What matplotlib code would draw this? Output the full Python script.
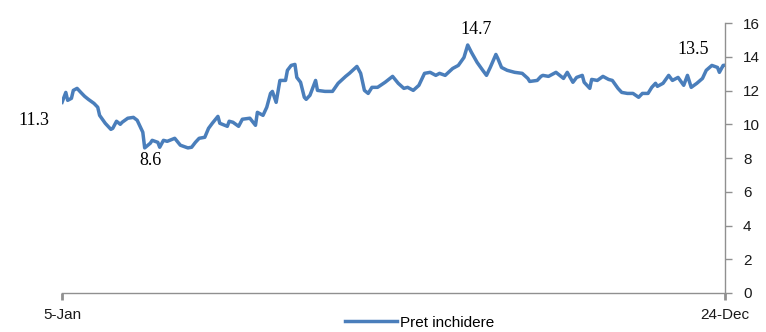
import datetime as dt
import matplotlib
matplotlib.use("Agg")
import matplotlib.pyplot as plt
import matplotlib.dates as mdates

# days after 5-Jan and closing price
day_offset = [0, 2, 3, 5, 6, 8, 10, 12, 14, 17, 19, 20, 23, 26, 27, 29, 31, 32, 35, 38,
              40, 42, 43, 44, 47, 48, 51, 52, 54, 56, 60, 63, 67, 69, 71, 73, 76, 78, 80, 83,
              84, 88, 89, 91, 94, 96, 100, 103, 104, 107, 109, 111, 112, 114, 116, 119, 120, 122, 124, 125,
              127, 129, 130, 132, 135, 136, 140, 144, 147, 151, 153, 157, 159, 161, 163, 165, 168, 172, 176, 179,
              182, 184, 187, 190, 193, 196, 199, 201, 204, 208, 211, 214, 216, 218, 221, 224, 226, 228, 231, 232,
              234, 237, 241, 245, 248, 249, 253, 255, 256, 259, 263, 265, 267, 269, 272, 274, 277, 278, 281, 282,
              285, 288, 291, 293, 296, 298, 301, 304, 307, 309, 312, 314, 316, 317, 320, 323, 325, 328, 331, 333,
              335, 338, 341, 343, 346, 349, 350, 352, 353]
price = [11.3, 11.89, 11.42, 11.54, 12.01, 12.13, 11.89, 11.66, 11.48, 11.24, 11.01, 10.53, 10.06, 9.70, 9.76, 10.18, 10.0, 10.12, 10.36, 10.41,
         10.24, 9.76, 9.53, 8.6, 8.88, 9.05, 8.93, 8.64, 9.05, 8.99, 9.17, 8.76, 8.6, 8.64, 8.93, 9.17, 9.23, 9.76, 10.06, 10.47,
         10.06, 9.88, 10.18, 10.12, 9.88, 10.30, 10.36, 9.94, 10.71, 10.53, 11.01, 11.83, 11.95, 11.30, 12.60, 12.60, 13.20, 13.49, 13.55, 12.78,
         12.49, 11.60, 11.48, 11.72, 12.60, 12.01, 11.95, 11.95, 12.43, 12.84, 13.02, 13.43, 13.02, 12.01, 11.83, 12.19, 12.19, 12.49, 12.84, 12.43,
         12.13, 12.19, 12.01, 12.31, 13.02, 13.08, 12.90, 13.02, 12.90, 13.31, 13.49, 13.96, 14.7, 14.26, 13.67, 13.20, 12.90, 13.37, 14.14, 13.91,
         13.37, 13.20, 13.08, 13.02, 12.72, 12.54, 12.60, 12.84, 12.90, 12.84, 13.08, 12.90, 12.72, 13.08, 12.49, 12.78, 12.90, 12.49, 12.13, 12.66,
         12.60, 12.84, 12.66, 12.60, 12.13, 11.89, 11.83, 11.83, 11.60, 11.83, 11.83, 12.19, 12.43, 12.25, 12.43, 12.90, 12.60, 12.78, 12.31, 12.90,
         12.19, 12.43, 12.72, 13.20, 13.49, 13.37, 13.08, 13.49, 13.5]
start = dt.date(2010, 1, 5)
series_name = 'Pret inchidere'
y_ticks = [0, 2, 4, 6, 8, 10, 12, 14, 16]

dates = [start + dt.timedelta(days=d) for d in day_offset]

narrow = ['Liberation Sans Narrow', 'Liberation Sans', 'DejaVu Sans']
serif = ['Liberation Serif', 'DejaVu Serif']

fig = plt.figure(figsize=(7.66, 3.32), dpi=100)
ax = fig.add_axes([0.081, 0.1175, 0.8655, 0.813])

ax.plot(dates, price, color='#4a7ebb', lw=2.5, label=series_name)

ax.set_xlim(dates[0], dates[-1])
ax.set_ylim(0, 16)
ax.set_xticks([dates[0], dates[-1]])
ax.xaxis.set_major_formatter(mdates.DateFormatter('%-d-%b'))
ax.set_yticks(y_ticks)

ax.yaxis.tick_right()
for s in ['left', 'top']:
    ax.spines[s].set_visible(False)
for s in ['right', 'bottom']:
    ax.spines[s].set_color('#909090')
    ax.spines[s].set_linewidth(1.0)
ax.tick_params(axis='y', colors='#909090', length=5, width=1, pad=8, labelcolor='#1a1a1a',
               labelsize=11)
ax.tick_params(axis='x', colors='#909090', length=5, width=2, pad=6, labelcolor='#1a1a1a',
               labelsize=11)
for lab in ax.get_xticklabels() + ax.get_yticklabels():
    lab.set_family(narrow)

# value labels: first, min, max, last
i_min = price.index(min(price))
i_max = price.index(max(price))
marks = [(0, (-20, -13)), (i_min, (4, -9)), (i_max, (6, 11)), (len(price) - 1, (-23, 11))]
for i, off in marks:
    ax.annotate(f'{price[i]:.1f}', (dates[i], price[i]), xytext=off, textcoords='offset points',
                ha='center', va='center', fontsize=13, family=serif, color='black')

leg = fig.legend(loc='center', bbox_to_anchor=(0.548, 0.028), frameon=False,
                 handlelength=3.4, handletextpad=0.2, prop={'family': narrow, 'size': 11})

fig.savefig('out.png', dpi=100)
